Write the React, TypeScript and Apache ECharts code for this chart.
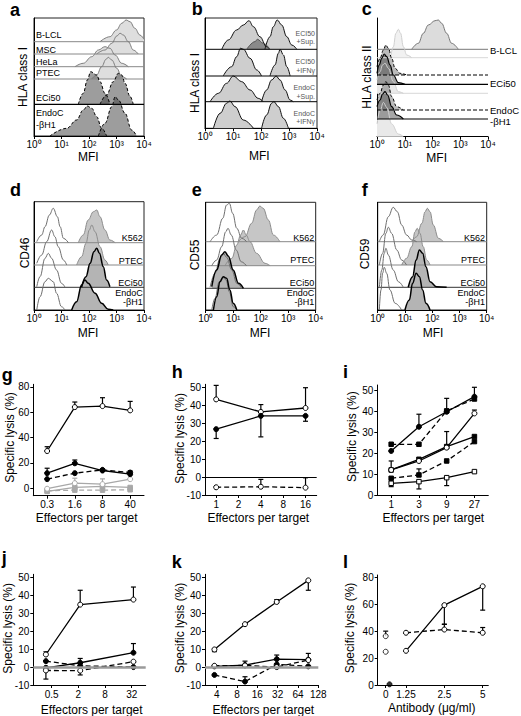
import { useEffect, useRef } from 'react';
import * as echarts from 'echarts';

const FONT = '"Liberation Sans", Arial, Helvetica, sans-serif';

// ================= Flow-cytometry histograms: [log10(MFI), events above row baseline] =================
// Panel a — HLA class I
const aBLCL = [[2.4, 0], [2.76, 5], [3.0, 11.7], [3.19, 18.4], [3.35, 21.7], [3.49, 20], [3.67, 13.4], [3.85, 6.7], [4.0, 2.3]];
const aMSC = [[2.28, 0], [2.58, 4], [2.83, 10.7], [3.01, 18], [3.13, 20.7], [3.25, 19], [3.43, 12.3], [3.61, 4], [3.79, 0]];
const aHeLa = [[1.49, 0], [1.79, 3.4], [2.1, 10], [2.34, 16.7], [2.58, 20], [2.76, 18.4], [2.95, 11.7], [3.19, 3.4], [3.43, 0]];
const aPTEC = [[2.1, 0], [2.28, 4], [2.46, 12.3], [2.62, 19.7], [2.7, 21.7], [2.83, 19], [3.01, 10.7], [3.19, 2.3], [3.37, 0]];
const aECiIso = [[1.61, 0], [1.79, 11], [1.94, 24.3], [2.06, 32.6], [2.28, 29.3], [2.4, 22.6], [2.58, 11], [2.76, 0]];
const aECiHLA = [[2.4, 0], [2.64, 9.3], [2.88, 22.6], [3.07, 31], [3.19, 29.3], [3.31, 21], [3.49, 8], [3.61, 0]];
const aEndoIso = [[0.58, 0], [1.19, 7.7], [1.55, 16], [1.79, 26], [1.94, 30], [2.1, 27.7], [2.28, 19.3], [2.46, 7.7], [2.64, 0]];
const aEndoHLA = [[2.34, 0], [2.58, 12.7], [2.83, 29.3], [2.95, 39.3], [3.07, 36], [3.31, 22.7], [3.55, 6], [3.73, 0]];
const aLabels = ['B-LCL', 'MSC', 'HeLa', 'PTEC', 'ECi50', 'EndoC', '-βH1'];

// Panel b — HLA class I after stimulation
const bR1Iso = [[0.6, 0], [0.83, 9.3], [1.13, 19.3], [1.37, 24.3], [1.57, 28.6], [1.73, 22.6], [1.96, 12.6], [2.2, 2.6], [2.32, 0]];
const bR1Mid = [[1.49, 0], [1.79, 7.7], [1.87, 10], [2.08, 6], [2.32, 0]];
const bR1HLA = [[2.14, 0], [2.32, 12.6], [2.44, 22.6], [2.58, 29.3], [2.74, 24.3], [2.92, 12.6], [3.1, 4.3], [3.28, 0]];
const bR2Iso = [[0.65, 0], [0.95, 9.3], [1.13, 19.3], [1.27, 27.7], [1.37, 26.7], [1.61, 17.7], [1.85, 6], [2.02, 0]];
const bR2HLA = [[2.32, 0], [2.5, 11], [2.62, 22.7], [2.68, 26.7], [2.8, 21], [2.92, 9.3], [3.04, 0]];
const bR3Iso = [[0.18, 0], [0.48, 8.4], [0.77, 18.4], [1.01, 25.7], [1.31, 20], [1.61, 11.7], [1.9, 3.4], [2.08, 0]];
const bR3HLA = [[2.02, 0], [2.2, 11.7], [2.38, 21.7], [2.54, 25.7], [2.68, 21.7], [2.86, 11.7], [3.04, 1.7], [3.15, 0]];
const bR4Iso = [[0.3, 0], [0.54, 15], [0.77, 25], [0.89, 27.3], [1.07, 21.7], [1.37, 8.3], [1.73, 0]];
const bR4HLA = [[2.02, 0], [2.2, 13.3], [2.38, 25], [2.46, 26.7], [2.62, 21.7], [2.8, 10], [2.98, 0]];
const bLabels = ['ECI50', '+Sup.', 'ECI50', '+IFNγ', 'EndoC', '+Sup.', 'EndoC', '+IFNγ'];

// Panel c — HLA class II
const cBLCL = [[1.25, 0], [1.49, 6], [1.67, 16], [1.85, 24.3], [2.09, 28.6], [2.21, 29.3], [2.33, 26], [2.51, 16], [2.69, 6], [2.93, 0]];
const cBLCLIso = [[0.49, 0], [0.59, 11], [0.68, 24.4], [0.77, 28.4], [0.85, 24.4], [0.95, 11], [1.07, 2.7], [1.25, 0]];
const cECiDash = [[0, 8.3], [0.11, 16.7], [0.23, 25], [0.32, 30], [0.41, 26.7], [0.53, 16.7], [0.65, 6.7], [0.83, 1.7], [1.07, 0]];
const cECiSolid = [[0, 11], [0.08, 19.3], [0.17, 26], [0.26, 30.3], [0.35, 27.6], [0.47, 19.3], [0.59, 9.3], [0.77, 1.6], [1.01, 0]];
const cECiLight = [[0, 13.3], [0.11, 21.6], [0.2, 28.3], [0.29, 30], [0.41, 25], [0.59, 11.6], [0.77, 1.6], [0.95, 0]];
const cEndoDash = [[0, 10], [0.11, 16.7], [0.23, 25], [0.32, 28.3], [0.41, 25], [0.53, 13.3], [0.71, 3.3], [0.95, 0]];
const cEndoSolid = [[0, 12.3], [0.11, 19], [0.2, 25], [0.29, 27.3], [0.38, 24], [0.53, 12.3], [0.71, 4], [0.95, 0]];
const cEndoLight = [[0, 12.7], [0.11, 26], [0.23, 34.3], [0.35, 29.3], [0.53, 12.7], [0.77, 2.7], [0.95, 0]];
const cLabels = ['B-LCL', 'ECi50', 'EndoC', '-βH1'];

// Panel d — CD46
const dK562Iso = [[0.1, 1], [0.28, 7.7], [0.4, 16], [0.56, 27.7], [0.7, 34.4], [0.85, 26], [0.95, 16], [1.07, 4.4], [1.25, 0]];
const dK562 = [[1.61, 0], [1.79, 7.7], [1.97, 22.7], [2.16, 31], [2.28, 32.7], [2.4, 26], [2.58, 12.7], [2.76, 2.7], [2.95, 0]];
const dPTECIso = [[0.1, 1.7], [0.28, 10], [0.46, 23.3], [0.64, 35], [0.76, 28.3], [0.88, 18.3], [1.07, 5], [1.19, 0]];
const dPTEC = [[1.55, 0], [1.73, 8.3], [1.89, 21.7], [2.01, 35], [2.1, 40], [2.22, 33.3], [2.4, 18.3], [2.58, 5], [2.7, 0]];
const dECiIso = [[0.1, 0.6], [0.22, 10.6], [0.4, 29], [0.52, 34], [0.64, 29], [0.82, 17.3], [1.0, 4], [1.13, 0]];
const dECi = [[1.73, 0], [1.89, 10.6], [2.04, 24], [2.18, 35.6], [2.28, 39], [2.38, 34], [2.52, 20.6], [2.64, 7.3], [2.76, 0.6]];
const dEndoIso = [[0.1, 0], [0.22, 13.3], [0.4, 28.3], [0.52, 31.7], [0.7, 28.3], [0.82, 16.7], [1.0, 3.3], [1.13, 0]];
const dEndo = [[1.37, 0], [1.55, 8.3], [1.73, 25], [1.85, 30], [1.97, 26.7], [2.22, 16.7], [2.46, 6.7], [2.7, 0.7], [2.88, 0]];

// Panel e — CD55
const eK562Iso = [[0.16, 0], [0.4, 6.7], [0.62, 23.4], [0.76, 36.7], [0.86, 38.4], [0.98, 28.4], [1.13, 13.4], [1.31, 3.4], [1.49, 0]];
const eK562 = [[1.19, 0], [1.43, 5], [1.67, 18.4], [1.85, 31.7], [1.97, 35.7], [2.09, 33.4], [2.28, 21.7], [2.46, 6.7], [2.7, 0]];
const ePTECIso = [[0.22, 0], [0.4, 5.7], [0.58, 19], [0.73, 34], [0.81, 37.4], [0.93, 30.7], [1.11, 15.7], [1.29, 4], [1.48, 0]];
const ePTEC = [[0.7, 0], [0.95, 7.4], [1.13, 20.7], [1.27, 30.7], [1.37, 35.7], [1.47, 30.7], [1.61, 24], [1.85, 12.4], [2.16, 2.4], [2.34, 0]];
const eECiIso = [[0.16, 1], [0.34, 15], [0.52, 30], [0.64, 35], [0.76, 31], [0.95, 18.3], [1.13, 5], [1.31, 0]];
const eECi = [[0.22, 1.6], [0.4, 18.3], [0.58, 33.3], [0.7, 36.6], [0.82, 32.3], [1.0, 18.3], [1.19, 5], [1.37, 0]];
const eEndoIso = [[0.22, 0], [0.34, 11.7], [0.49, 28.3], [0.62, 32.7], [0.74, 30], [0.86, 18.3], [1.0, 3.3], [1.13, 0]];
const eEndo = [[0.28, 0], [0.4, 13.3], [0.52, 28.3], [0.64, 33.3], [0.76, 31.7], [0.88, 20], [1.0, 6.7], [1.13, 0]];

// Panel f — CD59
const fK562Iso = [[0.06, 0], [0.2, 6.7], [0.39, 25], [0.57, 34.4], [0.72, 30], [0.88, 16.7], [1.06, 6.7], [1.25, 1.7], [1.43, 0]];
const fK562 = [[1.25, 0], [1.43, 5], [1.62, 18.4], [1.74, 30], [1.82, 33.4], [1.92, 30], [2.04, 16.7], [2.23, 3.4], [2.41, 0]];
const fPTECIso = [[0.06, 0], [0.18, 11.7], [0.3, 31.7], [0.39, 37.7], [0.51, 31.7], [0.7, 15], [0.88, 5], [1.06, 0]];
const fPTEC = [[0.88, 0], [1.06, 6.7], [1.25, 18.3], [1.37, 33.3], [1.45, 36.7], [1.55, 31.7], [1.67, 18.3], [1.8, 5], [1.92, 0]];
const fECiIso = [[0.06, 0], [0.15, 17.3], [0.24, 34], [0.3, 39], [0.39, 32.3], [0.57, 17.3], [0.76, 5.6], [0.94, 0]];
const fECi = [[1.12, 0], [1.28, 10.6], [1.41, 27.3], [1.53, 37.3], [1.65, 34], [1.77, 20.6], [1.92, 5.6], [2.16, 0.6], [2.53, 0]];
const fEndoIso = [[0.06, 0], [0.12, 20], [0.18, 36.7], [0.24, 42.7], [0.33, 36.7], [0.45, 20], [0.64, 6.7], [0.88, 0]];
const fEndo = [[1.0, 0], [1.16, 10], [1.28, 26.7], [1.41, 36.7], [1.53, 33.3], [1.65, 20], [1.77, 6.7], [1.92, 0]];
const defLabels = ['K562', 'PTEC', 'ECi50', 'EndoC', '-βH1'];

// MFI decade tick labels
const mfiTickLabels = ['10⁰', '10¹', '10²', '10³', '10⁴'];

// ================= Cytotoxicity panels: specific lysis (%) =================
const gCats = ['0.3', '1.6', '8', '40'];
const gOpen = [29.3, 64, 64.8, 61.4];
const gOpenErr = [32.7, 68, 71.4, 68.5];
const gFilled = [11.8, 19.6, 13.9, 11];
const gFilledErr = [15.7, 22.2, 15.2, 13.6];
const gFilledDash = [7.1, 11.8, 14.4, 12.3];
const gGreyOpen = [-0.5, 3.9, 3.1, 7.1];
const gGreyOpenErr = [null, 7.8, 7.3, null];
const gGreyFilled = [-2.6, 0.5, 1.3, 0.5];
const gGreyDash = [-2.1, -1.6, -1.6, -1.3];

const hCats = ['1', '2', '4', '8', '16'];
const hOpen = [43.3, null, 36.3, null, 38.5];
const hOpenErr = [51.1, null, 40.4, null, 49.8];
const hFilled = [26.7, null, 34.1, null, 34.1];
const hFilledErr = [21.5, null, 22.4, null, 31.1];
const hOpenDash = [-5.7, null, -5.4, null, -5.9];
const hOpenDashErr = [null, null, -1.3, null, -0.4];

const iCats = ['1', '3', '9', '27'];
const iFilledA = [21.1, 32.7, 39.9, 47.1];
const iFilledAErr = [null, 38.7, 46.3, 51.6];
const iFilledDashA = [24.3, 24.3, 40.3, 46];
const iFilledB = [12, 17.1, 23.2, 28];
const iOpen = [12, 16.3, 22.7, 39.1];
const iOpenErr = [16.3, null, 30.4, 40.7];
const iFilledDashB = [8, 9.6, 16.3, 25.6];
const iFilledDashBErr = [null, 12.5, null, null];
const iOpenSq = [5.6, 6.4, 8.3, 11.2];
const iOpenSqErr = [4, 2.9, 4.5, null];

const jTicks = [0.5, 2, 8, 32];
const jX = [0.37, 2.2, 35];
const jOpen = [7.0, 34.8, 37.6];
const jOpenErr = [8.5, 42.8, 44.6];
const jFilled = [-0.4, 2.4, 8.0];
const jFilledErr = [-6.7, 4.8, 13.1];
const jFilledDash = [3.3, 0.7, 0.0];
const jOpenDash = [-1.9, -2.0, 3.0];
const jOpenDashErr = [null, -4.4, null];

const kTicks = [4, 8, 16, 32, 64, 128];
const kX = [3.7, 10.5, 31, 91];
const kOpen = [9.8, 23.9, 36.3, 48.3];
const kOpenErr = [8.6, null, 37.6, 42.8];
const kFilled = [0.4, 1.1, 4.4, 4.1];
const kFilledErr = [null, 3.3, 6.7, 7.6];
const kFilledDash = [-4.4, -8.1, 1.5, 0.4];
const kFilledDashErr = [null, -5.4, null, null];
const kOpenDash = [0.7, 0.9, 0.0, 3.9];

const L_ZERO_AT = 0.866; // axis-break stand-in dose for the "0" category
const lTicks = [L_ZERO_AT, 1.25, 2.5, 5];
const lTickLabels = ['0', '1.25', '2.5', '5'];
const lX = [1.25, 2.5, 5];
const lOpen = [25.4, 59.3, 73.3];
const lOpenErr = [null, 45, 55.6];
const lOpenDash = [38.8, 41.2, 38.8];
const lOpenDashErr = [null, 45.2, 42.7];
const lZeroOpen = [36.3, 24.7];
const lZeroOpenErr = [40, null];
const lZeroFilled = [0.5];

// ================= helpers =================
const GREY = '#a8a8a8';

const curve = (gi: number, pts: number[][], base: number, s: any) => ({
  type: 'line', xAxisIndex: gi, yAxisIndex: gi, silent: true, symbol: 'none',
  smooth: 0.4, smoothMonotone: 'x',
  data: pts.map((p) => [p[0], base + p[1]]),
  lineStyle: { color: s.stroke, width: s.width ?? 1, type: s.dash ? [3, 2] : 'solid' },
  areaStyle: s.fill ? { color: s.fill, opacity: 1, origin: base } : undefined,
});

const hline = (gi: number, base: number, color: string, width = 1, dash = false) => ({
  type: 'line', xAxisIndex: gi, yAxisIndex: gi, silent: true, symbol: 'none',
  data: [[0, base], [4, base]],
  lineStyle: { color, width, type: dash ? [4, 2] : 'solid' },
});

const errSeries = (gi: number, pts: number[][], color: string) => ({
  type: 'custom', xAxisIndex: gi, yAxisIndex: gi, silent: true,
  data: pts, encode: { x: 0, y: [1, 2] },
  renderItem: (_p: any, api: any) => {
    const a = api.coord([api.value(0), api.value(1)]);
    const b = api.coord([api.value(0), api.value(2)]);
    const st = { stroke: color, lineWidth: 1.2 };
    return {
      type: 'group', children: [
        { type: 'line', shape: { x1: a[0], y1: a[1], x2: b[0], y2: b[1] }, style: st },
        { type: 'line', shape: { x1: b[0] - 2.5, y1: b[1], x2: b[0] + 2.5, y2: b[1] }, style: st },
      ],
    };
  },
});

const lysis = (gi: number, xs: number[] | null, spec: any) => {
  const color = spec.color ?? '#000';
  const xv = (i: number) => (xs ? xs[i] : i);
  const out: any[] = [];
  if (spec.err) {
    const pts: number[][] = [];
    spec.err.forEach((e: number | null, i: number) => {
      if (e !== null && spec.y[i] !== null) pts.push([xv(i), spec.y[i], e]);
    });
    out.push(errSeries(gi, pts, color));
  }
  out.push({
    type: spec.scatter ? 'scatter' : 'line', xAxisIndex: gi, yAxisIndex: gi, silent: true,
    connectNulls: true,
    data: spec.y.map((v: number | null, i: number) => [xv(i), v]),
    symbol: spec.sym ?? 'circle', symbolSize: spec.sym === 'rect' ? 4.5 : 5,
    itemStyle: { color: spec.open ? '#fff' : color, borderColor: color, borderWidth: 1 },
    lineStyle: { color, width: 1.3, type: spec.dash ? [5, 3] : 'solid' },
    z: 3,
  });
  return out;
};

const zeroLine = (gi: number, color: string, width: number) => ({
  type: 'line', xAxisIndex: gi, yAxisIndex: gi, silent: true, data: [],
  markLine: {
    silent: true, symbol: 'none', label: { show: false },
    lineStyle: { color, width, type: 'solid' }, data: [{ yAxis: 0 }],
  },
});

const lblStyle = { fontSize: 10, fontFamily: FONT, color: '#000' };
const histX = (gi: number) => ({
  type: 'value', gridIndex: gi, min: 0, max: 4, interval: 1,
  axisLine: { show: true, onZero: false, lineStyle: { color: '#000', width: 1 } },
  axisTick: { show: true, length: 3, lineStyle: { color: '#000' } },
  splitLine: { show: false },
  axisLabel: { ...lblStyle, margin: 3, formatter: (v: number) => mfiTickLabels[Math.round(v)] },
});
const histY = (gi: number, h: number) => ({
  type: 'value', gridIndex: gi, min: 0, max: h,
  axisLine: { show: true, onZero: false, lineStyle: { color: '#000' } },
  axisTick: { show: false }, axisLabel: { show: false }, splitLine: { show: false },
});
const lysisY = (gi: number, min: number, max: number, ticks: number[]) => ({
  type: 'value', gridIndex: gi, min, max,
  axisLine: { show: true, onZero: false, lineStyle: { color: '#000' } },
  axisTick: { show: true, length: 3, customValues: ticks, lineStyle: { color: '#000' } },
  axisLabel: { ...lblStyle, customValues: ticks, margin: 4 },
  splitLine: { show: false },
});
const catX = (gi: number, cats: string[]) => ({
  type: 'category', gridIndex: gi, data: cats, boundaryGap: true,
  axisLine: { show: true, onZero: false, lineStyle: { color: '#000' } },
  axisTick: { show: true, alignWithLabel: true, length: 3, lineStyle: { color: '#000' } },
  axisLabel: { ...lblStyle, margin: 4 },
  splitLine: { show: false },
});
const log2X = (gi: number, min: number, max: number, ticks: number[], labels: string[]) => {
  const pos = ticks.map(Math.log2);
  return {
    type: 'value', gridIndex: gi, min, max,
    axisLine: { show: true, onZero: false, lineStyle: { color: '#000' } },
    axisTick: { show: true, length: 3, customValues: pos, lineStyle: { color: '#000' } },
    axisLabel: {
      ...lblStyle, margin: 4, customValues: pos,
      formatter: (v: number) => {
        let bi = 0;
        pos.forEach((p, i) => { if (Math.abs(p - v) < Math.abs(pos[bi] - v)) bi = i; });
        return labels[bi];
      },
    },
    splitLine: { show: false },
  };
};

const txt = (text: string, x: number, y: number, o: any = {}) => ({
  type: 'text', x, y, rotation: o.rot ?? 0, z: 100, silent: true,
  style: {
    text, fontSize: o.size ?? 10, fontFamily: FONT, fontWeight: o.weight ?? 'normal',
    fill: o.color ?? '#000', align: o.align ?? 'left', verticalAlign: o.va ?? 'middle',
  },
});

function buildOption() {
  const grids = [
    { left: 34, top: 18, width: 110, height: 118, box: true },
    { left: 205, top: 18, width: 112, height: 110.3, box: true },
    { left: 377, top: 18, width: 111, height: 118.7, box: false },
    { left: 34, top: 201.7, width: 110, height: 108.3, box: true },
    { left: 205.7, top: 202.3, width: 110, height: 107.7, box: true },
    { left: 377.7, top: 202.3, width: 109, height: 107.7, box: true },
    { left: 33.3, top: 384.3, width: 110.7, height: 111.4 },
    { left: 205, top: 384.3, width: 111.7, height: 110.7 },
    { left: 377.3, top: 385, width: 111, height: 110 },
    { left: 33.3, top: 574.3, width: 112.4, height: 110.7 },
    { left: 205, top: 574.3, width: 113.3, height: 110.7 },
    { left: 377.7, top: 575, width: 110.6, height: 110 },
  ];
  const grid = grids.map((g) => ({
    left: g.left, top: g.top, width: g.width, height: g.height, containLabel: false,
    show: !!g.box, borderColor: '#222', borderWidth: 1, backgroundColor: 'transparent',
  }));

  const xAxis: any[] = [];
  const yAxis: any[] = [];
  for (let i = 0; i < 6; i++) { xAxis.push(histX(i)); yAxis.push(histY(i, grids[i].height)); }
  xAxis.push(catX(6, gCats)); yAxis.push(lysisY(6, -6, 82, [0, 20, 40, 60, 80]));
  xAxis.push(catX(7, hCats)); yAxis.push(lysisY(7, -10, 51.7, [-10, 0, 10, 20, 30, 40, 50]));
  xAxis.push(catX(8, iCats)); yAxis.push(lysisY(8, 0, 52.7, [0, 10, 20, 30, 40, 50]));
  xAxis.push(log2X(9, -2.38, 6.05, jTicks, jTicks.map(String))); yAxis.push(lysisY(9, -10, 51.7, [-10, 0, 10, 20, 30, 40, 50]));
  xAxis.push(log2X(10, 1.424, 7, kTicks, kTicks.map(String))); yAxis.push(lysisY(10, -10, 51.7, [-10, 0, 10, 20, 30, 40, 50]));
  xAxis.push(log2X(11, -0.416, 2.468, lTicks, lTickLabels)); yAxis.push(lysisY(11, 0, 81.7, [0, 20, 40, 60, 80]));

  const s: any[] = [];
  // ---- a
  const LIGHT = { stroke: '#7d7d7d', fill: '#dedede' };
  const DARKD = { stroke: '#000', dash: true, fill: 'rgba(60,60,60,0.5)' };
  s.push(hline(0, 94.3, '#888'), curve(0, aBLCL, 94.3, LIGHT));
  s.push(hline(0, 82, '#888'), curve(0, aMSC, 82, LIGHT));
  s.push(hline(0, 69.3, '#888'), curve(0, aHeLa, 69.3, LIGHT));
  s.push(hline(0, 57, '#888'), curve(0, aPTEC, 57, LIGHT));
  s.push(hline(0, 31.7, '#000', 1.2), curve(0, aECiIso, 31.7, DARKD), curve(0, aECiHLA, 31.7, DARKD));
  s.push(curve(0, aEndoIso, 0, DARKD), curve(0, aEndoHLA, 0, DARKD));
  // ---- b
  const BST = { stroke: '#111', fill: '#cecece' };
  s.push(hline(1, 79, '#000'), curve(1, bR1Iso, 79, BST), curve(1, bR1HLA, 79, BST), curve(1, bR1Mid, 79, { stroke: '#555', fill: '#8a8a8a' }));
  s.push(hline(1, 52.3, '#000'), curve(1, bR2Iso, 52.3, BST), curve(1, bR2HLA, 52.3, BST));
  s.push(hline(1, 26.6, '#000'), curve(1, bR3Iso, 26.6, BST), curve(1, bR3HLA, 26.6, BST));
  s.push(curve(1, bR4Iso, 0, BST), curve(1, bR4HLA, 0, BST));
  // ---- c
  const CL = { stroke: '#d0d0d0', fill: '#e9e9e9' };
  const CS = { stroke: '#000', fill: 'rgba(60,60,60,0.45)', width: 1.2 };
  const CD = { stroke: '#000', dash: true, fill: 'rgba(60,60,60,0.35)' };
  s.push(hline(2, 87.4, '#777'), curve(2, cBLCL, 87.4, { stroke: '#777', fill: '#dcdcdc' }));
  s.push(hline(2, 79, '#d8d8d8'), curve(2, cBLCLIso, 79, { stroke: '#d0d0d0', fill: '#f1f1f1' }));
  s.push(hline(2, 43.4, '#d8d8d8'), curve(2, cECiLight, 43.4, CL));
  s.push(hline(2, 52.4, '#000', 1.2), curve(2, cECiSolid, 52.4, CS));
  s.push(hline(2, 61.7, '#000', 1, true), curve(2, cECiDash, 61.7, CD));
  s.push(curve(2, cEndoLight, 0, CL));
  s.push(hline(2, 17.7, '#000', 1.2), curve(2, cEndoSolid, 17.7, CS));
  s.push(hline(2, 26.7, '#000', 1, true), curve(2, cEndoDash, 26.7, CD));
  // ---- d / e / f
  const ISO = { stroke: '#6e6e6e' };
  const STL = { stroke: '#8c8c8c', fill: '#c6c6c6' };
  const STD = { stroke: '#000', fill: '#b4b4b4', width: 1.5 };
  const defRows = [
    { gi: 3, b: [67.3, 45, 22.7, 0], c: [dK562Iso, dK562, dPTECIso, dPTEC, dECiIso, dECi, dEndoIso, dEndo] },
    { gi: 4, b: [68.3, 44.3, 21.7, 0], c: [eK562Iso, eK562, ePTECIso, ePTEC, eECiIso, eECi, eEndoIso, eEndo] },
    { gi: 5, b: [68.3, 45, 22.7, 0], c: [fK562Iso, fK562, fPTECIso, fPTEC, fECiIso, fECi, fEndoIso, fEndo] },
  ];
  defRows.forEach(({ gi, b, c }) => {
    for (let r = 0; r < 4; r++) {
      if (r < 3) s.push(hline(gi, b[r], r < 2 ? '#888' : '#333'));
      s.push(curve(gi, c[2 * r], b[r], ISO));
      s.push(curve(gi, c[2 * r + 1], b[r], r < 2 ? STL : STD));
    }
  });
  // ---- g
  s.push(...lysis(6, null, { y: gGreyDash, dash: true, color: GREY, sym: 'rect' }));
  s.push(...lysis(6, null, { y: gGreyFilled, color: GREY, sym: 'rect' }));
  s.push(...lysis(6, null, { y: gGreyOpen, err: gGreyOpenErr, open: true, color: GREY }));
  s.push(...lysis(6, null, { y: gFilledDash, dash: true }));
  s.push(...lysis(6, null, { y: gFilled, err: gFilledErr }));
  s.push(...lysis(6, null, { y: gOpen, err: gOpenErr, open: true }));
  // ---- h
  s.push(zeroLine(7, '#000', 1));
  s.push(...lysis(7, null, { y: hOpen, err: hOpenErr, open: true }));
  s.push(...lysis(7, null, { y: hFilled, err: hFilledErr }));
  s.push(...lysis(7, null, { y: hOpenDash, err: hOpenDashErr, open: true, dash: true }));
  // ---- i
  s.push(...lysis(8, null, { y: iFilledA, err: iFilledAErr }));
  s.push(...lysis(8, null, { y: iFilledDashA, dash: true, sym: 'rect' }));
  s.push(...lysis(8, null, { y: iFilledB, sym: 'rect' }));
  s.push(...lysis(8, null, { y: iOpen, err: iOpenErr, open: true }));
  s.push(...lysis(8, null, { y: iFilledDashB, err: iFilledDashBErr, dash: true, sym: 'rect' }));
  s.push(...lysis(8, null, { y: iOpenSq, err: iOpenSqErr, open: true, sym: 'rect' }));
  // ---- j
  const jx = jX.map(Math.log2);
  s.push(zeroLine(9, '#9a9a9a', 2.5));
  s.push(...lysis(9, jx, { y: jOpen, err: jOpenErr, open: true }));
  s.push(...lysis(9, jx, { y: jFilled, err: jFilledErr }));
  s.push(...lysis(9, jx, { y: jFilledDash, dash: true }));
  s.push(...lysis(9, jx, { y: jOpenDash, err: jOpenDashErr, open: true, dash: true }));
  // ---- k
  const kx = kX.map(Math.log2);
  s.push(zeroLine(10, '#9a9a9a', 2.5));
  s.push(...lysis(10, kx, { y: kOpen, err: kOpenErr, open: true }));
  s.push(...lysis(10, kx, { y: kFilled, err: kFilledErr }));
  s.push(...lysis(10, kx, { y: kFilledDash, err: kFilledDashErr, dash: true }));
  s.push(...lysis(10, kx, { y: kOpenDash, open: true, dash: true }));
  // ---- l
  const lx = lX.map(Math.log2);
  const l0 = Math.log2(L_ZERO_AT);
  s.push(...lysis(11, lx, { y: lOpen, err: lOpenErr, open: true }));
  s.push(...lysis(11, lx, { y: lOpenDash, err: lOpenDashErr, open: true, dash: true }));
  s.push(...lysis(11, lZeroOpen.map(() => l0), { y: lZeroOpen, err: lZeroOpenErr, open: true, scatter: true }));
  s.push(...lysis(11, lZeroFilled.map(() => l0 + 0.1), { y: lZeroFilled, scatter: true }));

  // ---- texts
  const g: any[] = [];
  const letter = (t: string, x: number, y: number) => g.push(txt(t, x, y, { size: 18, weight: 'bold' }));
  letter('a', 10, 10.4); letter('b', 191.7, 8.7); letter('c', 361.7, 8.7);
  letter('d', 10, 190.4); letter('e', 191.7, 190.4); letter('f', 361.7, 190.4);
  letter('g', 1.7, 374.7); letter('h', 171.7, 372); letter('i', 343, 372);
  letter('j', 1.7, 558.4); letter('k', 171.7, 562); letter('l', 343, 562);

  const ytitle = (t: string, x: number, y: number) => g.push(txt(t, x, y, { size: 12, align: 'center', rot: Math.PI / 2 }));
  ytitle('HLA class I', 23.3, 77); ytitle('HLA class I', 195, 83); ytitle('HLA class II', 366.7, 77);
  ytitle('CD46', 25, 253); ytitle('CD55', 195, 255); ytitle('CD59', 365, 254);
  ['Specific lysis (%)'].forEach((t) => {
    ytitle(t, 10, 437.5); ytitle(t, 180, 438.3); ytitle(t, 351.7, 436.7);
    ytitle(t, 8.3, 628.3); ytitle(t, 180, 628); ytitle(t, 350, 628);
  });
  const xtitle = (t: string, x: number, y: number) => g.push(txt(t, x, y, { size: 12, align: 'center' }));
  xtitle('MFI', 88.3, 156.5); xtitle('MFI', 259.3, 156); xtitle('MFI', 436.7, 158);
  xtitle('MFI', 88, 333); xtitle('MFI', 260, 333); xtitle('MFI', 433, 333);
  xtitle('Effectors per target', 86.7, 518.3); xtitle('Effectors per target', 258.3, 518.3); xtitle('Effectors per target', 433.3, 518.3);
  xtitle('Effectors per target', 91.7, 710); xtitle('Effectors per target', 263.3, 710); xtitle('Antibody (μg/ml)', 431.7, 708.3);

  // row labels
  const aY = [35, 50, 62, 73.3, 98.3, 113.3, 125];
  aLabels.forEach((t, i) => g.push(txt(t, 36, aY[i], { size: 9 })));
  const bY = [33, 41.7, 61.7, 70, 87.7, 96, 113.3, 121.7];
  bLabels.forEach((t, i) => g.push(txt(t, 315, bY[i], { size: 7, align: 'right', color: '#555' })));
  const cY = [50, 83.3, 110.7, 121];
  cLabels.forEach((t, i) => g.push(txt(t, 490, cY[i], { size: 9.5 })));
  const defX = [142.7, 314.3, 485];
  const defY = [[238.3, 260.7, 282.7, 293, 302], [237.7, 260, 283, 293, 302], [237.7, 260, 282.7, 293, 302]];
  defX.forEach((x, p) => defLabels.forEach((t, i) => g.push(txt(t, x, defY[p][i], { size: 9, align: 'right' }))));

  return {
    animation: false,
    backgroundColor: '#fff',
    textStyle: { fontFamily: FONT },
    grid, xAxis, yAxis, series: s, graphic: g,
  };
}

export default function App() {
  const ref = useRef<HTMLDivElement>(null);
  useEffect(() => {
    if (!ref.current) return;
    const chart = echarts.init(ref.current, null, { renderer: 'svg' });
    chart.setOption(buildOption() as any);
    return () => chart.dispose();
  }, []);
  return (
    <div
      ref={ref}
      style={{ position: 'absolute', left: 0, top: 0, width: 521, height: 716, background: '#fff' }}
    />
  );
}
